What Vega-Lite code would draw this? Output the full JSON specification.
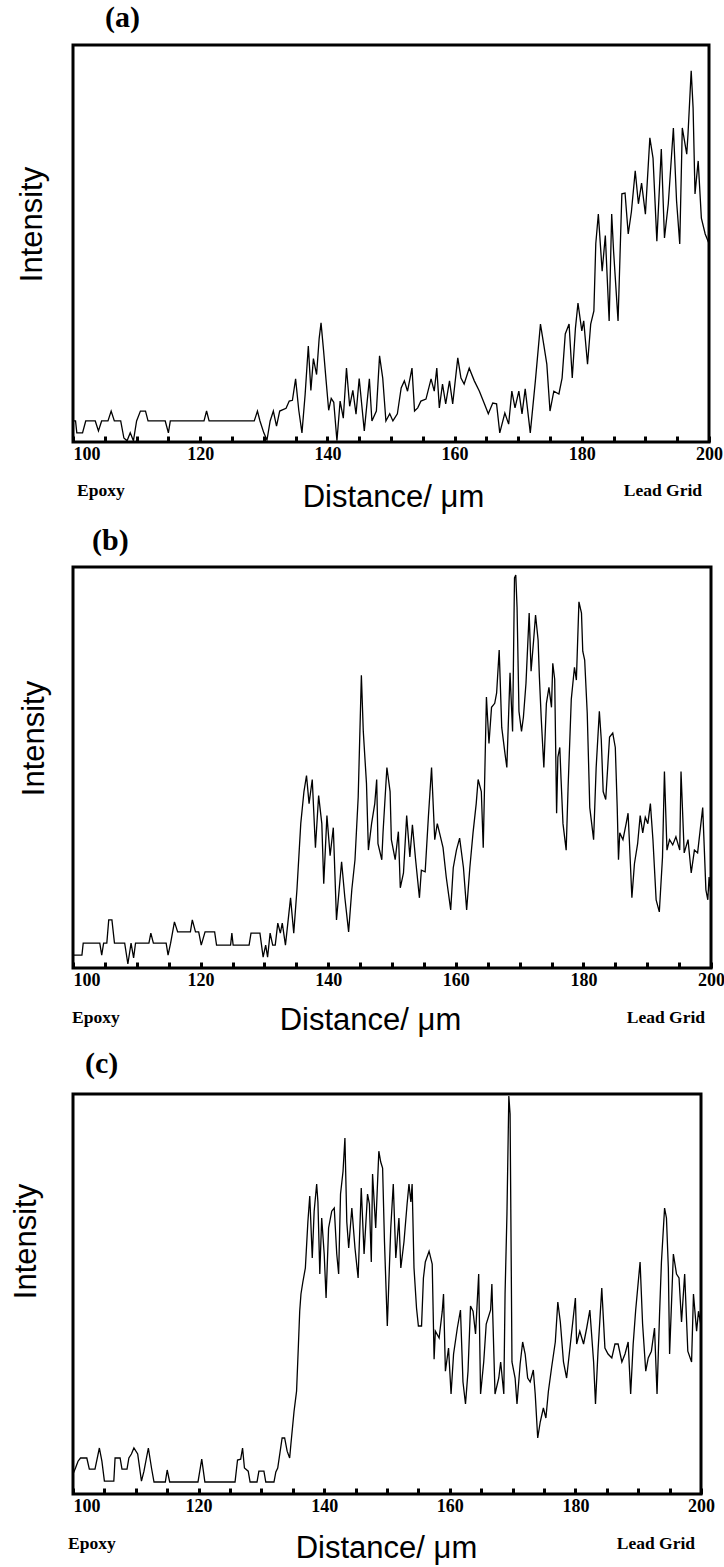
{
  "$schema": "https://vega.github.io/schema/vega-lite/v6.json",
  "background": "white",
  "padding": {"left": 8, "top": 1, "right": 0, "bottom": 0},
  "spacing": 10,
  "config": {
    "view": {"stroke": "black", "strokeWidth": 3},
    "axisX": {
      "values": [100, 110, 120, 130, 140, 150, 160, 170, 180, 190, 200],
      "labelExpr": "datum.value % 20 === 0 ? datum.label : ''",
      "tickSize": -6, "tickWidth": 3, "tickColor": "black",
      "domain": false, "grid": false, "labelFlush": false,
      "labelFont": "Liberation Serif", "labelFontWeight": "bold", "labelFontSize": 18, "labelColor": "black",
      "labelBaseline": "alphabetic", "labelPadding": 23,
      "titleFont": "Liberation Sans", "titleFontSize": 31, "titleFontWeight": "normal", "titleColor": "black",
      "titleBaseline": "alphabetic"
    },
    "axisY": {
      "labels": false, "ticks": false, "domain": false, "grid": false,
      "titleFont": "Liberation Sans", "titleFontSize": 31, "titleFontWeight": "normal", "titleColor": "black"
    },
    "title": {"font": "Liberation Serif", "fontSize": 30, "fontWeight": "bold", "color": "black", "anchor": "start", "frame": "group", "baseline": "alphabetic"}
  },
  "datasets": {
    "a": [
      {"x":100,"v":5.3},{"x":100.4,"v":5.3},{"x":100.6,"v":2.3},{"x":101.5,"v":2.3},{"x":102,"v":5.3},{"x":103.5,"v":5.3},{"x":104,"v":2.8},{"x":104.5,"v":5.3},{"x":105.5,"v":5.3},{"x":106,"v":7.8},{"x":106.5,"v":5.3},{"x":107.5,"v":5.3},{"x":108,"v":1},{"x":108.5,"v":0.3},{"x":109,"v":2.3},{"x":109.5,"v":0.3},{"x":110,"v":5.3},{"x":110.6,"v":7.8},{"x":111.4,"v":7.8},{"x":111.8,"v":5.3},{"x":114.5,"v":5.3},{"x":115,"v":2.3},{"x":115.3,"v":5.3},{"x":120.6,"v":5.3},{"x":121,"v":7.8},{"x":121.4,"v":5.3},{"x":128.5,"v":5.3},{"x":129,"v":7.8},{"x":129.4,"v":5.3},{"x":130,"v":2.3},{"x":130.5,"v":0.5},{"x":131,"v":5.3},{"x":131.5,"v":7.8},{"x":132,"v":4},{"x":132.5,"v":7.8},{"x":133.5,"v":8.5},{"x":134,"v":10.3},{"x":134.5,"v":10.5},{"x":135,"v":15.9},{"x":135.5,"v":8},{"x":136,"v":2.3},{"x":136.5,"v":12},{"x":137,"v":24.2},{"x":137.4,"v":13},{"x":137.8,"v":21},{"x":138.3,"v":17},{"x":138.7,"v":26},{"x":139,"v":30},{"x":139.4,"v":23},{"x":139.8,"v":15.4},{"x":140.2,"v":8},{"x":140.6,"v":11},{"x":141,"v":10},{"x":141.5,"v":0.3},{"x":142,"v":10.3},{"x":142.5,"v":6},{"x":143,"v":18.6},{"x":143.5,"v":9},{"x":144,"v":13},{"x":144.5,"v":7},{"x":145,"v":16},{"x":145.8,"v":2.8},{"x":146.6,"v":15.9},{"x":147,"v":5.3},{"x":147.7,"v":7.8},{"x":148.2,"v":21.7},{"x":148.7,"v":16.1},{"x":149.2,"v":5.3},{"x":149.8,"v":7.1},{"x":150.3,"v":5.3},{"x":151,"v":7.1},{"x":151.6,"v":13.6},{"x":152.1,"v":15.4},{"x":152.6,"v":12.8},{"x":153.3,"v":18.6},{"x":153.7,"v":7.8},{"x":154.2,"v":8.6},{"x":154.7,"v":10.3},{"x":155.5,"v":10.8},{"x":156.3,"v":15.9},{"x":156.8,"v":12.8},{"x":157.2,"v":18.6},{"x":157.6,"v":8.6},{"x":158.1,"v":14.6},{"x":158.6,"v":9.6},{"x":159.2,"v":15.4},{"x":159.7,"v":9.6},{"x":160.5,"v":21.2},{"x":161,"v":16.1},{"x":161.5,"v":14.6},{"x":162.3,"v":18.6},{"x":163.1,"v":15.4},{"x":163.9,"v":12.8},{"x":164.7,"v":9.6},{"x":165.3,"v":7.1},{"x":166,"v":9.8},{"x":166.6,"v":9.6},{"x":167.1,"v":2.3},{"x":167.9,"v":7.3},{"x":168.5,"v":4.5},{"x":169,"v":12.8},{"x":169.5,"v":8.6},{"x":170.1,"v":12.8},{"x":170.6,"v":7.1},{"x":171.1,"v":13.4},{"x":171.9,"v":2.3},{"x":172.7,"v":15.4},{"x":173.5,"v":29.7},{"x":174,"v":24.7},{"x":174.5,"v":19.6},{"x":175,"v":7.8},{"x":175.6,"v":12.8},{"x":176.4,"v":12.1},{"x":176.9,"v":16.1},{"x":177.4,"v":27.2},{"x":178,"v":29.7},{"x":178.5,"v":16.1},{"x":179,"v":28.7},{"x":179.4,"v":35},{"x":180,"v":28},{"x":180.3,"v":30.5},{"x":180.9,"v":19.6},{"x":181.4,"v":29.7},{"x":181.9,"v":33},{"x":182.2,"v":50},{"x":182.6,"v":57.4},{"x":183.2,"v":43},{"x":183.7,"v":52},{"x":184.3,"v":30.5},{"x":184.7,"v":57.4},{"x":185,"v":48},{"x":185.7,"v":30.5},{"x":186.3,"v":62.5},{"x":186.8,"v":62.7},{"x":187.3,"v":52.4},{"x":187.8,"v":58},{"x":188.4,"v":68.3},{"x":188.9,"v":60},{"x":189.4,"v":65.2},{"x":190,"v":57.4},{"x":190.7,"v":76.6},{"x":191.2,"v":71.5},{"x":191.8,"v":50.6},{"x":192.5,"v":73.8},{"x":193,"v":51.4},{"x":193.6,"v":60},{"x":194.4,"v":79.1},{"x":194.9,"v":60.7},{"x":195.4,"v":49.9},{"x":195.8,"v":79.1},{"x":196.5,"v":72.5},{"x":196.7,"v":77.6},{"x":197.2,"v":93.5},{"x":197.5,"v":84.1},{"x":197.8,"v":62.5},{"x":198.3,"v":70.8},{"x":198.8,"v":56.4},{"x":199.4,"v":52.4},{"x":200,"v":50}
    ],
    "b": [
      {"x":100,"v":3.2},{"x":101.4,"v":3.2},{"x":101.6,"v":6.2},{"x":104.2,"v":6.2},{"x":104.5,"v":3.2},{"x":104.8,"v":6.2},{"x":105.3,"v":6.2},{"x":105.6,"v":12},{"x":106.1,"v":12},{"x":106.5,"v":6.2},{"x":108.1,"v":6.2},{"x":108.6,"v":1},{"x":109.1,"v":6.2},{"x":109.5,"v":2.5},{"x":109.8,"v":6.2},{"x":111.9,"v":6.2},{"x":112.2,"v":8.7},{"x":112.6,"v":6.2},{"x":114.6,"v":6.2},{"x":114.9,"v":3.2},{"x":115.3,"v":6.2},{"x":115.9,"v":11.5},{"x":116.4,"v":9},{"x":118.4,"v":9},{"x":118.7,"v":12},{"x":119.2,"v":9},{"x":119.7,"v":9},{"x":120.1,"v":5.7},{"x":120.7,"v":9},{"x":122.2,"v":9},{"x":122.5,"v":5.7},{"x":124.7,"v":5.7},{"x":124.9,"v":8.7},{"x":125.1,"v":5.7},{"x":127.6,"v":5.7},{"x":127.9,"v":8.7},{"x":129.3,"v":8.7},{"x":129.8,"v":2.7},{"x":130.2,"v":5.7},{"x":130.5,"v":2.7},{"x":130.9,"v":8.7},{"x":131.3,"v":5.7},{"x":131.7,"v":5.7},{"x":132.1,"v":11.2},{"x":132.5,"v":8.7},{"x":132.8,"v":11.2},{"x":133.3,"v":5.7},{"x":134.1,"v":17.5},{"x":134.6,"v":8.7},{"x":135.1,"v":19.5},{"x":135.7,"v":36},{"x":136.2,"v":44},{"x":136.6,"v":48},{"x":137,"v":41},{"x":137.5,"v":47},{"x":138,"v":30},{"x":138.5,"v":43},{"x":139,"v":36},{"x":139.3,"v":21},{"x":139.8,"v":38},{"x":140.3,"v":28},{"x":140.8,"v":35},{"x":141.3,"v":12},{"x":142.1,"v":26.5},{"x":142.6,"v":17.7},{"x":143.2,"v":9},{"x":143.7,"v":19.5},{"x":144.2,"v":27},{"x":144.7,"v":42.6},{"x":145.2,"v":73},{"x":145.5,"v":59},{"x":146,"v":46},{"x":146.3,"v":29.4},{"x":146.8,"v":36},{"x":147.3,"v":41},{"x":147.6,"v":47},{"x":147.8,"v":31},{"x":148.4,"v":27},{"x":148.6,"v":34},{"x":149.2,"v":50},{"x":149.7,"v":44},{"x":149.9,"v":32},{"x":150.5,"v":27},{"x":151,"v":34},{"x":151.3,"v":20},{"x":151.8,"v":23.7},{"x":152.3,"v":38},{"x":152.8,"v":27.7},{"x":153.2,"v":35.7},{"x":153.7,"v":27},{"x":154.3,"v":17.5},{"x":154.6,"v":24.4},{"x":155.2,"v":24},{"x":155.7,"v":37.6},{"x":156.2,"v":50},{"x":156.7,"v":32},{"x":157.1,"v":36},{"x":157.6,"v":32.7},{"x":158,"v":30},{"x":158.5,"v":22.7},{"x":159.2,"v":14.5},{"x":159.6,"v":25},{"x":160.1,"v":29.4},{"x":160.6,"v":32.4},{"x":161.2,"v":25},{"x":161.7,"v":14.5},{"x":162.2,"v":25},{"x":162.7,"v":33.7},{"x":163.2,"v":41},{"x":163.5,"v":47},{"x":164,"v":44},{"x":164.3,"v":30},{"x":164.8,"v":67.6},{"x":165.2,"v":56},{"x":165.6,"v":65},{"x":166.1,"v":66},{"x":166.4,"v":68.6},{"x":166.8,"v":79.3},{"x":167.2,"v":60},{"x":167.7,"v":53.6},{"x":168,"v":50},{"x":168.5,"v":73.6},{"x":168.9,"v":59},{"x":169.2,"v":97.3},{"x":169.4,"v":98},{"x":169.6,"v":90},{"x":169.9,"v":64},{"x":170.3,"v":59},{"x":170.6,"v":62.6},{"x":171,"v":71},{"x":171.5,"v":88.5},{"x":171.8,"v":74},{"x":172.2,"v":81.8},{"x":172.5,"v":88},{"x":172.9,"v":81.8},{"x":173.1,"v":72.6},{"x":173.4,"v":62},{"x":173.8,"v":50},{"x":174.2,"v":66},{"x":174.6,"v":70},{"x":175,"v":65},{"x":175.2,"v":76},{"x":175.5,"v":72},{"x":175.8,"v":38.6},{"x":176,"v":52.6},{"x":176.3,"v":55},{"x":176.5,"v":47},{"x":176.8,"v":36},{"x":177.3,"v":29.4},{"x":177.6,"v":45},{"x":178.1,"v":67},{"x":178.6,"v":75},{"x":178.9,"v":71.8},{"x":179.3,"v":91.3},{"x":179.7,"v":88.5},{"x":179.9,"v":79},{"x":180.2,"v":76.8},{"x":180.6,"v":63.6},{"x":181,"v":40},{"x":181.6,"v":32},{"x":182,"v":50},{"x":182.5,"v":64},{"x":182.8,"v":57},{"x":183.1,"v":44},{"x":183.5,"v":42},{"x":184.1,"v":57.6},{"x":184.6,"v":58.6},{"x":185,"v":55},{"x":185.3,"v":40},{"x":185.5,"v":27},{"x":185.7,"v":33.7},{"x":186.2,"v":32},{"x":186.7,"v":36},{"x":187,"v":38.6},{"x":187.2,"v":32},{"x":187.6,"v":17.5},{"x":188,"v":26},{"x":188.5,"v":31},{"x":188.9,"v":38},{"x":189.3,"v":33.7},{"x":189.7,"v":37.6},{"x":190.1,"v":36},{"x":190.5,"v":41},{"x":190.9,"v":32},{"x":191.4,"v":17},{"x":191.9,"v":14},{"x":192.4,"v":27.7},{"x":192.7,"v":49},{"x":193.1,"v":29.4},{"x":193.5,"v":32},{"x":194,"v":30.7},{"x":194.5,"v":32.7},{"x":195.1,"v":29.4},{"x":195.3,"v":49},{"x":195.8,"v":28.7},{"x":196.4,"v":32},{"x":196.9,"v":23.7},{"x":197.4,"v":29.4},{"x":197.9,"v":28.7},{"x":198.7,"v":40},{"x":199.2,"v":19.5},{"x":199.5,"v":17},{"x":199.7,"v":22.7},{"x":200,"v":18}
    ],
    "c": [
      {"x":100,"v":5},{"x":100.4,"v":6.5},{"x":100.8,"v":8.2},{"x":101.2,"v":9},{"x":102.2,"v":9},{"x":102.6,"v":6.2},{"x":103.5,"v":6.2},{"x":104.2,"v":11.5},{"x":104.6,"v":8.2},{"x":105,"v":3.2},{"x":106.5,"v":3.2},{"x":106.7,"v":9},{"x":107.5,"v":9},{"x":107.8,"v":6.2},{"x":108.6,"v":6.2},{"x":108.9,"v":9},{"x":109.3,"v":10},{"x":109.7,"v":11.5},{"x":110.3,"v":10},{"x":110.9,"v":3.2},{"x":111.3,"v":5.7},{"x":112,"v":11.5},{"x":112.5,"v":6.5},{"x":112.9,"v":3},{"x":114.7,"v":3},{"x":115,"v":6},{"x":115.4,"v":3},{"x":119.9,"v":3},{"x":120.5,"v":8.7},{"x":121,"v":3},{"x":125.8,"v":3},{"x":126.2,"v":8.5},{"x":126.7,"v":8.7},{"x":127,"v":11.5},{"x":127.3,"v":6.5},{"x":127.9,"v":5.7},{"x":128.2,"v":3},{"x":129.3,"v":3},{"x":129.6,"v":5.7},{"x":130.4,"v":5.7},{"x":130.7,"v":3},{"x":132,"v":3},{"x":132.3,"v":5.5},{"x":132.6,"v":6.5},{"x":133.3,"v":14},{"x":133.7,"v":14},{"x":134.1,"v":10.7},{"x":134.5,"v":9},{"x":134.7,"v":12.5},{"x":135.2,"v":20.7},{"x":135.6,"v":25.7},{"x":135.9,"v":37.5},{"x":136.1,"v":45.7},{"x":136.3,"v":50},{"x":136.6,"v":53},{"x":137,"v":56.5},{"x":137.4,"v":68},{"x":137.7,"v":74.5},{"x":138.1,"v":59},{"x":138.4,"v":70.7},{"x":138.8,"v":77.5},{"x":139,"v":73},{"x":139.3,"v":55},{"x":139.6,"v":69},{"x":140,"v":60},{"x":140.3,"v":49},{"x":140.7,"v":66.5},{"x":141.2,"v":70.7},{"x":141.6,"v":71.5},{"x":142,"v":60},{"x":142.3,"v":55},{"x":142.6,"v":75},{"x":143,"v":80.7},{"x":143.3,"v":89},{"x":143.6,"v":68},{"x":143.9,"v":61.5},{"x":144.4,"v":71.5},{"x":144.9,"v":61.5},{"x":145.4,"v":54},{"x":145.9,"v":76.5},{"x":146.35,"v":60},{"x":146.9,"v":75},{"x":147.2,"v":72.5},{"x":147.5,"v":58},{"x":147.7,"v":80},{"x":148.2,"v":66.5},{"x":148.7,"v":85.7},{"x":149,"v":83},{"x":149.3,"v":81.5},{"x":149.6,"v":63},{"x":150.05,"v":42},{"x":150.6,"v":66.5},{"x":151,"v":77.5},{"x":151.4,"v":59},{"x":151.9,"v":69},{"x":152.2,"v":56.5},{"x":152.7,"v":63},{"x":153.2,"v":72.5},{"x":153.5,"v":77.5},{"x":153.8,"v":73},{"x":154,"v":77.5},{"x":154.3,"v":56.5},{"x":154.7,"v":46.5},{"x":155,"v":42},{"x":155.5,"v":42},{"x":155.8,"v":54},{"x":156.1,"v":58},{"x":156.7,"v":60.7},{"x":157.2,"v":57.5},{"x":157.5,"v":33.7},{"x":157.7,"v":40.7},{"x":158.3,"v":39},{"x":158.8,"v":45.7},{"x":159,"v":50},{"x":159.3,"v":30.7},{"x":159.8,"v":36.5},{"x":160.2,"v":25},{"x":160.6,"v":35},{"x":161.2,"v":41.5},{"x":161.7,"v":46},{"x":162.1,"v":28},{"x":162.5,"v":22.5},{"x":162.9,"v":30.7},{"x":163.3,"v":47},{"x":163.7,"v":45.7},{"x":164.1,"v":40},{"x":164.6,"v":55},{"x":164.9,"v":25},{"x":165.4,"v":33},{"x":165.8,"v":42.5},{"x":166.5,"v":46},{"x":166.7,"v":52.5},{"x":167.2,"v":25},{"x":167.8,"v":29},{"x":168.1,"v":33},{"x":168.6,"v":25},{"x":168.8,"v":50},{"x":169.1,"v":70},{"x":169.4,"v":99.5},{"x":169.6,"v":95},{"x":169.9,"v":33},{"x":170.4,"v":29},{"x":170.7,"v":22.5},{"x":171.2,"v":32.5},{"x":171.6,"v":38},{"x":172,"v":35},{"x":172.4,"v":29},{"x":172.8,"v":28},{"x":173.3,"v":31},{"x":173.6,"v":25},{"x":174,"v":14},{"x":174.4,"v":18},{"x":174.9,"v":21.5},{"x":175.3,"v":19},{"x":175.7,"v":25.7},{"x":176.2,"v":31.5},{"x":176.8,"v":38},{"x":177.2,"v":48},{"x":177.6,"v":43},{"x":178.1,"v":33},{"x":178.6,"v":29},{"x":179.2,"v":37.5},{"x":180,"v":49},{"x":180.2,"v":37.5},{"x":180.7,"v":40.7},{"x":181.3,"v":37.5},{"x":181.8,"v":41.5},{"x":182.3,"v":46},{"x":182.9,"v":33},{"x":183.2,"v":22.5},{"x":183.6,"v":35.7},{"x":184.2,"v":51.5},{"x":184.7,"v":36.5},{"x":185.2,"v":35},{"x":185.8,"v":34},{"x":186.3,"v":37.5},{"x":186.8,"v":37.5},{"x":187.4,"v":33},{"x":187.9,"v":35},{"x":188.4,"v":38},{"x":188.8,"v":25},{"x":189.2,"v":37.5},{"x":189.6,"v":46},{"x":190.3,"v":58},{"x":190.7,"v":42.5},{"x":191.2,"v":30.7},{"x":191.6,"v":34},{"x":192.1,"v":35.7},{"x":192.6,"v":41.5},{"x":193,"v":25},{"x":193.4,"v":45},{"x":193.7,"v":58},{"x":194.2,"v":71.5},{"x":194.5,"v":69},{"x":194.8,"v":56.5},{"x":195,"v":35},{"x":195.6,"v":60},{"x":196.1,"v":55},{"x":196.5,"v":54},{"x":196.9,"v":43},{"x":197.4,"v":55},{"x":197.9,"v":35.7},{"x":198.5,"v":33},{"x":198.8,"v":50},{"x":199.3,"v":40.7},{"x":199.6,"v":45.7},{"x":200,"v":42}
    ]
  },
  "vconcat": [
    {
      "width": 636, "height": 397,
      "title": {"text": "(a)", "dx": 32, "offset": 12},
      "layer": [
        {
          "data": {"name": "a"},
          "mark": {"type": "line", "color": "black", "strokeWidth": 1.3},
          "encoding": {
            "x": {"field": "x", "type": "quantitative", "scale": {"domain": [100, 200], "nice": false, "zero": false},
                  "axis": {"title": "Distance/ μm", "titleX": 320, "titleY": 64, "labelAlign": {"condition": {"test": "datum.value === 100", "value": "left"}, "value": "center"}}},
            "y": {"field": "v", "type": "quantitative", "scale": {"domain": [0, 100], "nice": false},
                  "axis": {"title": "Intensity", "titlePadding": 25, "titleY": 179}}
          }
        },
        {
          "data": {"values": [{"label": "Epoxy"}]},
          "mark": {"type": "text", "align": "left", "baseline": "alphabetic", "dx": 4, "font": "Liberation Serif", "fontWeight": "bold", "fontSize": 17.5, "color": "black"},
          "encoding": {
            "x": {"datum": 100, "type": "quantitative"},
            "y": {"datum": -13.7, "type": "quantitative"},
            "text": {"field": "label"}
          }
        },
        {
          "data": {"values": [{"label": "Lead Grid"}]},
          "mark": {"type": "text", "align": "right", "baseline": "alphabetic", "dx": -7, "font": "Liberation Serif", "fontWeight": "bold", "fontSize": 17.5, "color": "black"},
          "encoding": {
            "x": {"datum": 200, "type": "quantitative"},
            "y": {"datum": -13.7, "type": "quantitative"},
            "text": {"field": "label"}
          }
        }
      ]
    },
    {
      "width": 638, "height": 401,
      "title": {"text": "(b)", "dx": 19, "offset": 11},
      "layer": [
        {
          "data": {"name": "b"},
          "mark": {"type": "line", "color": "black", "strokeWidth": 1.3},
          "encoding": {
            "x": {"field": "x", "type": "quantitative", "scale": {"domain": [100, 200], "nice": false, "zero": false},
                  "axis": {"title": "Distance/ μm", "titleX": 297, "titleY": 61, "labelAlign": {"condition": {"test": "datum.value === 100", "value": "left"}, "value": "center"}}},
            "y": {"field": "v", "type": "quantitative", "scale": {"domain": [0, 100], "nice": false},
                  "axis": {"title": "Intensity", "titlePadding": 23, "titleY": 171}}
          }
        },
        {
          "data": {"values": [{"label": "Epoxy"}]},
          "mark": {"type": "text", "align": "left", "baseline": "alphabetic", "dx": -1, "font": "Liberation Serif", "fontWeight": "bold", "fontSize": 17.5, "color": "black"},
          "encoding": {
            "x": {"datum": 100, "type": "quantitative"},
            "y": {"datum": -13.7, "type": "quantitative"},
            "text": {"field": "label"}
          }
        },
        {
          "data": {"values": [{"label": "Lead Grid"}]},
          "mark": {"type": "text", "align": "right", "baseline": "alphabetic", "dx": -6, "font": "Liberation Serif", "fontWeight": "bold", "fontSize": 17.5, "color": "black"},
          "encoding": {
            "x": {"datum": 200, "type": "quantitative"},
            "y": {"datum": -13.7, "type": "quantitative"},
            "text": {"field": "label"}
          }
        }
      ]
    },
    {
      "width": 628, "height": 400,
      "title": {"text": "(c)", "dx": 12, "offset": 14},
      "layer": [
        {
          "data": {"name": "c"},
          "mark": {"type": "line", "color": "black", "strokeWidth": 1.3},
          "encoding": {
            "x": {"field": "x", "type": "quantitative", "scale": {"domain": [100, 200], "nice": false, "zero": false},
                  "axis": {"title": "Distance/ μm", "titleX": 313, "titleY": 63, "labelAlign": {"condition": {"test": "datum.value === 100", "value": "left"}, "value": "center"}}},
            "y": {"field": "v", "type": "quantitative", "scale": {"domain": [0, 100], "nice": false},
                  "axis": {"title": "Intensity", "titlePadding": 31, "titleY": 147}}
          }
        },
        {
          "data": {"values": [{"label": "Epoxy"}]},
          "mark": {"type": "text", "align": "left", "baseline": "alphabetic", "dx": -5, "font": "Liberation Serif", "fontWeight": "bold", "fontSize": 17.5, "color": "black"},
          "encoding": {
            "x": {"datum": 100, "type": "quantitative"},
            "y": {"datum": -13.7, "type": "quantitative"},
            "text": {"field": "label"}
          }
        },
        {
          "data": {"values": [{"label": "Lead Grid"}]},
          "mark": {"type": "text", "align": "right", "baseline": "alphabetic", "dx": -6, "font": "Liberation Serif", "fontWeight": "bold", "fontSize": 17.5, "color": "black"},
          "encoding": {
            "x": {"datum": 200, "type": "quantitative"},
            "y": {"datum": -13.7, "type": "quantitative"},
            "text": {"field": "label"}
          }
        }
      ]
    }
  ]
}
